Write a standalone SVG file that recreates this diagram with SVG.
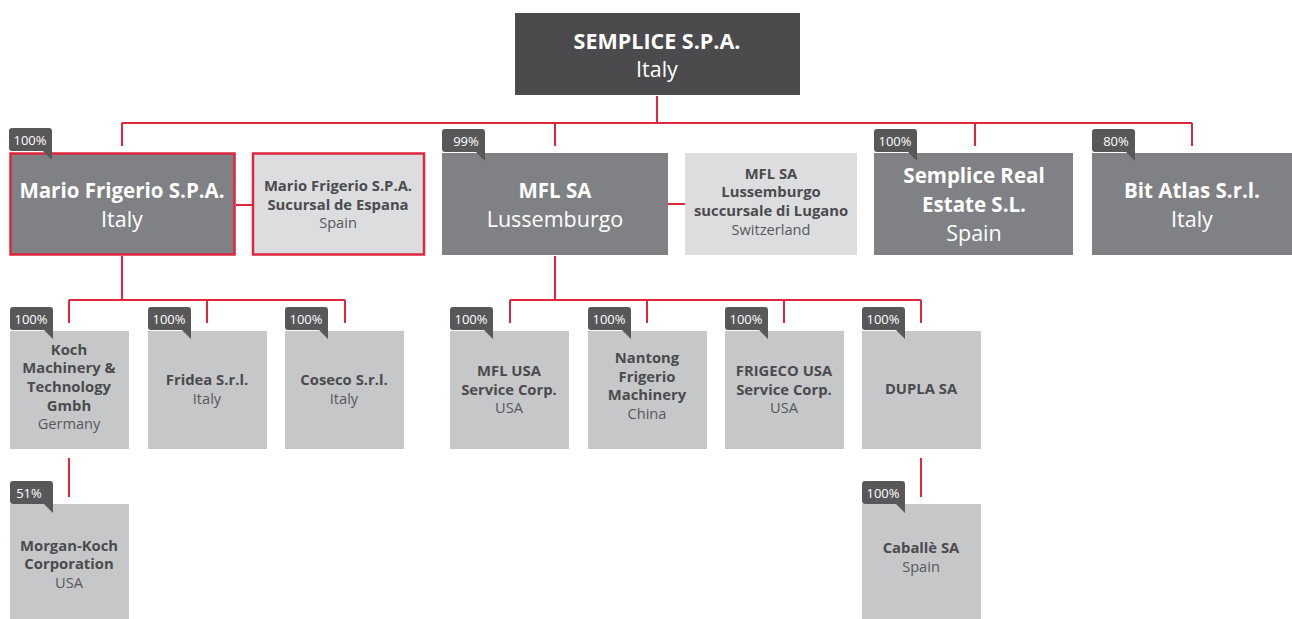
<svg xmlns="http://www.w3.org/2000/svg" width="1292" height="619" viewBox="0 0 1292 619">
<defs>
<style>
.bg{fill:#ffffff}
.top{fill:#4b4b4d}
.mid{fill:#808184}
.lt{fill:#c6c7c9}
.br{fill:#dcdddf}
.redb{stroke:#e0263c;stroke-width:2.5}
.con{fill:none;stroke:#e0263c;stroke-width:2}
.badge{fill:#58585a}
text{font-family:"Open Sans","Noto Sans",sans-serif;text-anchor:middle}
.bt{font-size:13px;fill:#ffffff}
.tb{font-weight:700;fill:#ffffff;font-size:21.5px}
.wb{font-weight:700;fill:#ffffff;font-size:20.5px}
.wr{fill:#ffffff;font-size:21.5px}
.db{font-weight:700;fill:#4b4b4d;font-size:14.8px}
.dr{fill:#58585a;font-size:14.6px}
</style>
<g id="badgeShape"><path class="badge" d="M3,0 H40 a3,3 0 0 1 3,3 V32 L34,23 H3 a3,3 0 0 1 -3,-3 V3 a3,3 0 0 1 3,-3 Z"/></g>
</defs>
<rect class="bg" x="0" y="0" width="1292" height="619"/>

<g id="connectors">
<path class="con" d="M657,96 V123 M122,123 H1192 M122,123 V146 M555,123 V146 M975,123 V146 M1192,123 V146"/>
<path class="con" d="M236,205 H252 M668,204 H685"/>
<path class="con" d="M122,256 V300 M69,300 H345 M69,300 V323 M207,300 V323 M345,300 V323"/>
<path class="con" d="M555,256 V300 M510,300 H921 M510,300 V323 M647,300 V323 M784,300 V323 M921,300 V323"/>
<path class="con" d="M69,458 V497 M921,458 V497"/>
</g>

<g id="semplice">
<rect class="top" x="515" y="13" width="285" height="82"/>
<text class="tb" x="657" y="49">SEMPLICE S.P.A.</text>
<text class="wr" x="657" y="77">Italy</text>
</g>

<g id="mario">
<rect class="mid redb" x="10.5" y="153.5" width="224" height="101"/>
<text class="wb" x="122" y="198">Mario Frigerio S.P.A.</text>
<text class="wr" x="122" y="227">Italy</text>
<use href="#badgeShape" x="9" y="128"/><text class="bt" x="30" y="145">100%</text>
</g>

<g id="sucursal">
<rect class="br redb" x="253" y="153.5" width="171" height="101"/>
<text class="db" x="338" y="191">Mario Frigerio S.P.A.</text>
<text class="db" x="338" y="210">Sucursal de Espana</text>
<text class="dr" x="338" y="228">Spain</text>
</g>

<g id="mfl">
<rect class="mid" x="442" y="153" width="226" height="102"/>
<text class="wb" x="555" y="198">MFL SA</text>
<text class="wr" x="555" y="227">Lussemburgo</text>
<use href="#badgeShape" x="442" y="129"/><text class="bt" x="466" y="146">99%</text>
</g>

<g id="mfl-lugano">
<rect class="br" x="685" y="153" width="172" height="102"/>
<text class="db" x="771" y="179">MFL SA</text>
<text class="db" x="771" y="197">Lussemburgo</text>
<text class="db" x="771" y="216">succursale di Lugano</text>
<text class="dr" x="771" y="235">Switzerland</text>
</g>

<g id="semplice-real">
<rect class="mid" x="874" y="153" width="199" height="102"/>
<text class="wb" x="974" y="183">Semplice Real</text>
<text class="wb" x="974" y="212">Estate S.L.</text>
<text class="wr" x="974" y="241">Spain</text>
<use href="#badgeShape" x="874" y="129"/><text class="bt" x="895" y="146">100%</text>
</g>

<g id="bit-atlas">
<rect class="mid" x="1092" y="153" width="200" height="102"/>
<text class="wb" x="1192" y="198">Bit Atlas S.r.l.</text>
<text class="wr" x="1192" y="227">Italy</text>
<use href="#badgeShape" x="1092" y="129"/><text class="bt" x="1116" y="146">80%</text>
</g>

<g id="koch">
<rect class="lt" x="10" y="331" width="119" height="118"/>
<text class="db" x="69" y="355">Koch</text>
<text class="db" x="69" y="373">Machinery &amp;</text>
<text class="db" x="69" y="392">Technology</text>
<text class="db" x="69" y="411">Gmbh</text>
<text class="dr" x="69" y="429">Germany</text>
<use href="#badgeShape" x="10" y="307"/><text class="bt" x="31" y="324">100%</text>
</g>

<g id="fridea">
<rect class="lt" x="148" y="331" width="119" height="118"/>
<text class="db" x="207" y="385">Fridea S.r.l.</text>
<text class="dr" x="207" y="404">Italy</text>
<use href="#badgeShape" x="148" y="307"/><text class="bt" x="169" y="324">100%</text>
</g>

<g id="coseco">
<rect class="lt" x="285" y="331" width="119" height="118"/>
<text class="db" x="344" y="385">Coseco S.r.l.</text>
<text class="dr" x="344" y="404">Italy</text>
<use href="#badgeShape" x="285" y="307"/><text class="bt" x="306" y="324">100%</text>
</g>

<g id="mfl-usa">
<rect class="lt" x="450" y="331" width="119" height="118"/>
<text class="db" x="509" y="376">MFL USA</text>
<text class="db" x="509" y="395">Service Corp.</text>
<text class="dr" x="509" y="413">USA</text>
<use href="#badgeShape" x="450" y="307"/><text class="bt" x="471" y="324">100%</text>
</g>

<g id="nantong">
<rect class="lt" x="588" y="331" width="119" height="118"/>
<text class="db" x="647" y="363">Nantong</text>
<text class="db" x="647" y="382">Frigerio</text>
<text class="db" x="647" y="400">Machinery</text>
<text class="dr" x="647" y="419">China</text>
<use href="#badgeShape" x="588" y="307"/><text class="bt" x="609" y="324">100%</text>
</g>

<g id="frigeco">
<rect class="lt" x="725" y="331" width="119" height="118"/>
<text class="db" x="784" y="376">FRIGECO USA</text>
<text class="db" x="784" y="395">Service Corp.</text>
<text class="dr" x="784" y="413">USA</text>
<use href="#badgeShape" x="725" y="307"/><text class="bt" x="746" y="324">100%</text>
</g>

<g id="dupla">
<rect class="lt" x="862" y="331" width="119" height="118"/>
<text class="db" x="921" y="394">DUPLA SA</text>
<use href="#badgeShape" x="862" y="307"/><text class="bt" x="883" y="324">100%</text>
</g>

<g id="morgan-koch">
<rect class="lt" x="10" y="504" width="119" height="115"/>
<text class="db" x="69" y="551">Morgan-Koch</text>
<text class="db" x="69" y="569">Corporation</text>
<text class="dr" x="69" y="588">USA</text>
<use href="#badgeShape" x="10" y="481"/><text class="bt" x="29" y="498">51%</text>
</g>

<g id="caballe">
<rect class="lt" x="862" y="504" width="119" height="115"/>
<text class="db" x="921" y="553">Caballè SA</text>
<text class="dr" x="921" y="572">Spain</text>
<use href="#badgeShape" x="862" y="481"/><text class="bt" x="883" y="498">100%</text>
</g>
</svg>
